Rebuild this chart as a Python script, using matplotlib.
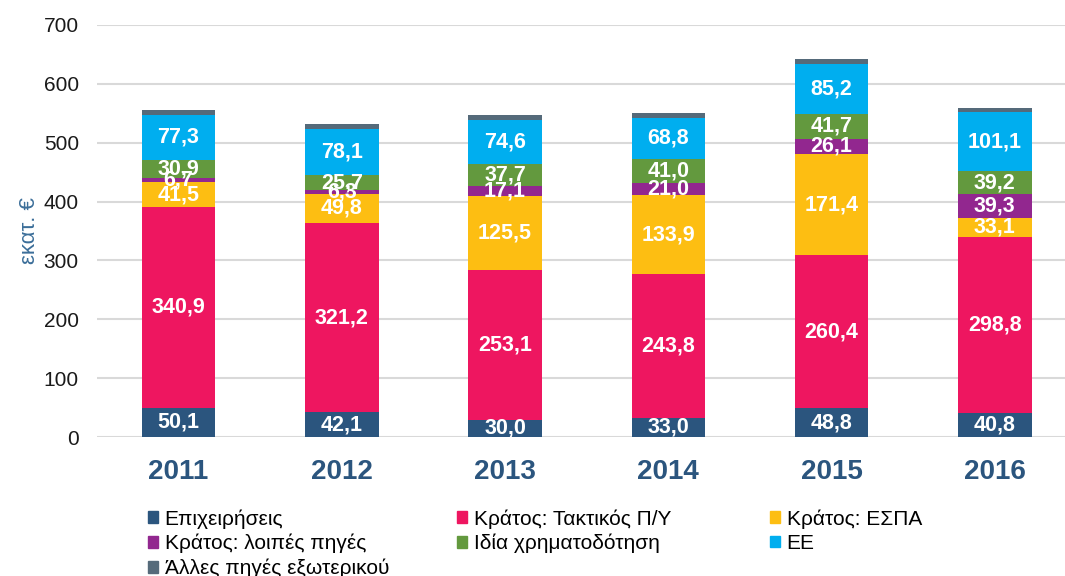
import matplotlib.pyplot as plt
import numpy as np
from matplotlib.patches import Patch

plt.rcParams['font.family'] = ['Liberation Sans', 'DejaVu Sans']

years = ['2011', '2012', '2013', '2014', '2015', '2016']
epixeiriseis = [50.1, 42.1, 30.0, 33.0, 48.8, 40.8]
taktikos = [340.9, 321.2, 253.1, 243.8, 260.4, 298.8]
espa = [41.5, 49.8, 125.5, 133.9, 171.4, 33.1]
loipes = [6.7, 6.3, 17.1, 21.0, 26.1, 39.3]
idia = [30.9, 25.7, 37.7, 41.0, 41.7, 39.2]
ee = [77.3, 78.1, 74.6, 68.8, 85.2, 101.1]
alles = [8.0, 8.4, 8.0, 7.9, 9.0, 5.6]

names = ['Επιχειρήσεις', 'Κράτος: Τακτικός Π/Υ', 'Κράτος: ΕΣΠΑ',
         'Κράτος: λοιπές πηγές', 'Ιδία χρηματοδότηση', 'ΕΕ',
         'Άλλες πηγές εξωτερικού']
colors = ['#2B557E', '#EE1660', '#FDBE12', '#92278F', '#63993E', '#00AEEF', '#556A7A']
series = [epixeiriseis, taktikos, espa, loipes, idia, ee, alles]

fig = plt.figure(figsize=(10.65, 5.76), dpi=100)
ax = fig.add_axes([0.091, 0.241, 0.909, 0.716])

x = np.arange(len(years))
bottom = np.zeros(len(years))
for i, (vals, c) in enumerate(zip(series, colors)):
    bars = ax.bar(x, vals, 0.45, bottom=bottom, color=c, zorder=3)
    # no labels on the thin grey top segment
    if i < 6:
        labs = [f'{v:.1f}'.replace('.', ',') for v in vals]
        ax.bar_label(bars, labels=labs, label_type='center', color='white',
                     fontsize=15.5, fontweight='bold', zorder=4)
    bottom += np.array(vals)

ax.set_ylim(0, 700)
ax.set_xlim(-0.5, 5.43)
ax.set_yticks(range(0, 701, 100))
ax.set_xticks(x)
ax.set_xticklabels(years, fontsize=20, fontweight='bold', color='#2B557E')
ax.tick_params(axis='y', labelsize=15, labelcolor='#1a1a1a', length=0, pad=13)
ax.tick_params(axis='x', length=0, pad=16)
ax.grid(axis='y', color='#D9D9D9', linewidth=1.5, zorder=0)
for s in ax.spines.values():
    s.set_visible(False)
ax.set_ylabel('εκατ. €', fontsize=16, color='#3B6E99', labelpad=3)

# legend: three columns laid out row by row, one legend per column
handles = [Patch(color=c) for c in colors]
columns = [([0, 3, 6], 0.139), ([1, 4], 0.429), ([2, 5], 0.723)]
for idx, xpos in columns:
    leg = fig.legend([handles[i] for i in idx], [names[i] for i in idx],
                     loc='upper left', bbox_to_anchor=(xpos, 0.116),
                     frameon=False, fontsize=15, handlelength=0.5, handleheight=0.5,
                     handletextpad=0.3, labelspacing=0.25,
                     borderpad=0, borderaxespad=0)

fig.savefig('out.png', dpi=100)
